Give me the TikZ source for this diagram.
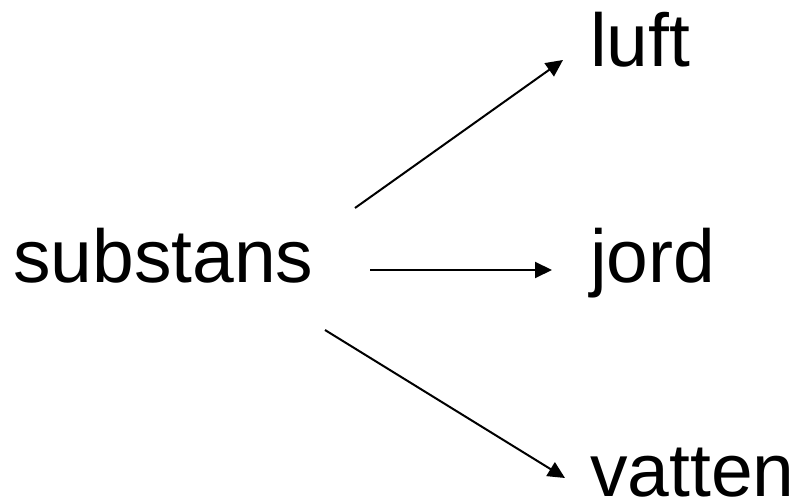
\documentclass[tikz,border=0pt]{standalone}
\usepackage{fontspec}
\setmainfont{Liberation Sans}
\usetikzlibrary{arrows.meta}
\begin{document}
\begin{tikzpicture}[x=1pt,y=1pt,
  word/.style={anchor=base west,inner sep=0pt,font=\fontsize{75}{90}\selectfont},
  link/.style={line width=2pt,-{Triangle[length=17pt,width=16pt]}}]
\useasboundingbox (0,0) rectangle (794,498);
\node[word] (sub) at (13,215) {substans};
\node[word] (luft) at (590,431) {luft};
\node[word] (jord) at (590,215) {jord};
\node[word] (vatten) at (590,2) {vatten};
\draw[link] ([shift={(342,75)}]sub.base west) -- ([shift={(-27,7)}]luft.base west);
\draw[link] ([shift={(357,13)}]sub.base west) -- ([shift={(-38,13)}]jord.base west);
\draw[link] ([shift={(312,-47)}]sub.base west) -- ([shift={(-25,18)}]vatten.base west);
\end{tikzpicture}
\end{document}
